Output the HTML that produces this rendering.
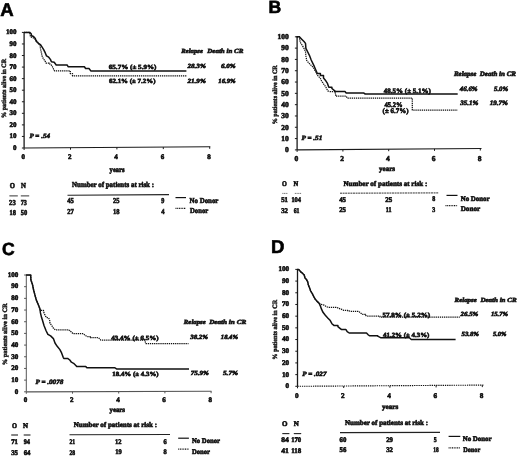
<!DOCTYPE html>
<html><head><meta charset="utf-8"><style>
html,body{margin:0;padding:0;background:#fff;}
body{width:520px;height:456px;overflow:hidden;}
svg{display:block;filter:blur(0.35px);text-rendering:geometricPrecision;}
</style></head><body>
<svg width="520" height="456" viewBox="0 0 520 456">
<rect width="520" height="456" fill="#fff"/>
<text x="0.2" y="15.7" font-size="18.6" font-weight="bold" font-family='"Liberation Sans", sans-serif' fill="#000" stroke="#000" stroke-width="0.6">A</text>
<line x1="24.10" y1="31.90" x2="24.10" y2="148.00" stroke="#1a1a1a" stroke-width="1.3"/>
<line x1="21.90" y1="148.00" x2="24.10" y2="148.00" stroke="#1a1a1a" stroke-width="1.0"/>
<text x="16.50" y="150.00" font-size="7.0" font-weight="bold" font-family='"Liberation Serif", serif' fill="#111" stroke="#111" stroke-width="0.6" text-anchor="end">0</text>
<line x1="21.90" y1="136.44" x2="24.10" y2="136.44" stroke="#1a1a1a" stroke-width="1.0"/>
<text x="16.50" y="138.44" font-size="7.0" font-weight="bold" font-family='"Liberation Serif", serif' fill="#111" stroke="#111" stroke-width="0.6" text-anchor="end">10</text>
<line x1="21.90" y1="124.88" x2="24.10" y2="124.88" stroke="#1a1a1a" stroke-width="1.0"/>
<text x="16.50" y="126.88" font-size="7.0" font-weight="bold" font-family='"Liberation Serif", serif' fill="#111" stroke="#111" stroke-width="0.6" text-anchor="end">20</text>
<line x1="21.90" y1="113.32" x2="24.10" y2="113.32" stroke="#1a1a1a" stroke-width="1.0"/>
<text x="16.50" y="115.32" font-size="7.0" font-weight="bold" font-family='"Liberation Serif", serif' fill="#111" stroke="#111" stroke-width="0.6" text-anchor="end">30</text>
<line x1="21.90" y1="101.76" x2="24.10" y2="101.76" stroke="#1a1a1a" stroke-width="1.0"/>
<text x="16.50" y="103.76" font-size="7.0" font-weight="bold" font-family='"Liberation Serif", serif' fill="#111" stroke="#111" stroke-width="0.6" text-anchor="end">40</text>
<line x1="21.90" y1="90.20" x2="24.10" y2="90.20" stroke="#1a1a1a" stroke-width="1.0"/>
<text x="16.50" y="92.20" font-size="7.0" font-weight="bold" font-family='"Liberation Serif", serif' fill="#111" stroke="#111" stroke-width="0.6" text-anchor="end">50</text>
<line x1="21.90" y1="78.64" x2="24.10" y2="78.64" stroke="#1a1a1a" stroke-width="1.0"/>
<text x="16.50" y="80.64" font-size="7.0" font-weight="bold" font-family='"Liberation Serif", serif' fill="#111" stroke="#111" stroke-width="0.6" text-anchor="end">60</text>
<line x1="21.90" y1="67.08" x2="24.10" y2="67.08" stroke="#1a1a1a" stroke-width="1.0"/>
<text x="16.50" y="69.08" font-size="7.0" font-weight="bold" font-family='"Liberation Serif", serif' fill="#111" stroke="#111" stroke-width="0.6" text-anchor="end">70</text>
<line x1="21.90" y1="55.52" x2="24.10" y2="55.52" stroke="#1a1a1a" stroke-width="1.0"/>
<text x="16.50" y="57.52" font-size="7.0" font-weight="bold" font-family='"Liberation Serif", serif' fill="#111" stroke="#111" stroke-width="0.6" text-anchor="end">80</text>
<line x1="21.90" y1="43.96" x2="24.10" y2="43.96" stroke="#1a1a1a" stroke-width="1.0"/>
<text x="16.50" y="45.96" font-size="7.0" font-weight="bold" font-family='"Liberation Serif", serif' fill="#111" stroke="#111" stroke-width="0.6" text-anchor="end">90</text>
<line x1="21.90" y1="32.40" x2="24.10" y2="32.40" stroke="#1a1a1a" stroke-width="1.0"/>
<text x="16.50" y="34.40" font-size="7.0" font-weight="bold" font-family='"Liberation Serif", serif' fill="#111" stroke="#111" stroke-width="0.6" text-anchor="end">100</text>
<line x1="24.10" y1="148.00" x2="210.30" y2="146.80" stroke="#1a1a1a" stroke-width="1.15"/>
<line x1="24.10" y1="148.00" x2="24.10" y2="150.00" stroke="#1a1a1a" stroke-width="1.0"/>
<text x="23.30" y="159.20" font-size="7.0" font-weight="bold" font-family='"Liberation Serif", serif' fill="#111" stroke="#111" stroke-width="0.6" text-anchor="middle">0</text>
<line x1="70.50" y1="147.70" x2="70.50" y2="149.70" stroke="#1a1a1a" stroke-width="1.0"/>
<text x="69.70" y="159.20" font-size="7.0" font-weight="bold" font-family='"Liberation Serif", serif' fill="#111" stroke="#111" stroke-width="0.6" text-anchor="middle">2</text>
<line x1="116.90" y1="147.40" x2="116.90" y2="149.40" stroke="#1a1a1a" stroke-width="1.0"/>
<text x="116.10" y="159.20" font-size="7.0" font-weight="bold" font-family='"Liberation Serif", serif' fill="#111" stroke="#111" stroke-width="0.6" text-anchor="middle">4</text>
<line x1="163.30" y1="147.10" x2="163.30" y2="149.10" stroke="#1a1a1a" stroke-width="1.0"/>
<text x="162.50" y="159.20" font-size="7.0" font-weight="bold" font-family='"Liberation Serif", serif' fill="#111" stroke="#111" stroke-width="0.6" text-anchor="middle">6</text>
<line x1="209.70" y1="146.80" x2="209.70" y2="148.80" stroke="#1a1a1a" stroke-width="1.0"/>
<text x="208.90" y="159.20" font-size="7.0" font-weight="bold" font-family='"Liberation Serif", serif' fill="#111" stroke="#111" stroke-width="0.6" text-anchor="middle">8</text>
<text x="109.60" y="171.90" font-size="7.4" font-weight="bold" font-family='"Liberation Serif", serif' fill="#111" stroke="#111" stroke-width="0.6" textLength="15.00" lengthAdjust="spacingAndGlyphs">years</text>
<text transform="translate(5.80,88.40) rotate(-90)" x="-29.50" y="0" font-size="6.6" font-weight="bold" font-family='"Liberation Serif", serif' fill="#111" stroke="#111" stroke-width="0.42" textLength="59" lengthAdjust="spacingAndGlyphs">% patients alive in CR</text>
<text x="29.50" y="137.70" font-size="6.6" font-weight="bold" font-style="italic" font-family='"Liberation Serif", serif' fill="#111" stroke="#111" stroke-width="0.6" textLength="20.50" lengthAdjust="spacingAndGlyphs">P = .54</text>
<path d="M24.00,32.40 H29.70 L30.50,36.80 L33.50,38.00 L35.50,39.50 L38.00,42.50 L40.10,45.70 L40.50,48.80 L41.20,51.80 L42.00,55.70 L43.20,58.40 L45.10,61.10 L46.00,63.00 H49.20 V63.80 L51.00,64.40 L52.70,67.30 L54.40,70.80 H70.30 V73.50 H72.50 V75.90 H186.40" fill="none" stroke="#111" stroke-width="1.25" stroke-linejoin="round" stroke-dasharray="1.3,0.8"/>
<path d="M24.00,32.40 H29.70 L31.20,33.80 L31.60,35.70 L33.50,36.50 L35.30,38.60 L36.10,41.10 L38.30,43.30 L40.50,44.60 L42.10,47.10 L43.80,49.90 L45.40,53.20 L46.50,55.90 L48.70,57.20 L50.40,59.40 L51.40,61.80 L54.20,62.20 L56.20,65.00 H67.10 L68.30,66.80 H84.40 L85.60,68.50 H89.00 L90.80,70.90 H186.40" fill="none" stroke="#111" stroke-width="1.5" stroke-linejoin="round"/>
<text x="108.75" y="69.00" font-size="6.3" font-weight="bold" font-family='"Liberation Serif", serif' fill="#111" stroke="#111" stroke-width="0.6" textLength="47.75" lengthAdjust="spacingAndGlyphs">65.7% (± 5.9%)</text>
<text x="109.00" y="82.70" font-size="6.3" font-weight="bold" font-family='"Liberation Serif", serif' fill="#111" stroke="#111" stroke-width="0.6" textLength="46.50" lengthAdjust="spacingAndGlyphs">62.1% (± 7.2%)</text>
<text x="181.30" y="52.50" font-size="6.3" font-weight="bold" font-style="italic" font-family='"Liberation Serif", serif' fill="#111" stroke="#111" stroke-width="0.6" textLength="21.60" lengthAdjust="spacingAndGlyphs">Relapse</text>
<text x="207.30" y="52.50" font-size="6.3" font-weight="bold" font-style="italic" font-family='"Liberation Serif", serif' fill="#111" stroke="#111" stroke-width="0.6" textLength="36.00" lengthAdjust="spacingAndGlyphs">Death in CR</text>
<text x="187.50" y="68.30" font-size="6.3" font-weight="bold" font-style="italic" font-family='"Liberation Serif", serif' fill="#111" stroke="#111" stroke-width="0.6" textLength="18.30" lengthAdjust="spacingAndGlyphs">28.3%</text>
<text x="221.00" y="68.30" font-size="6.3" font-weight="bold" font-style="italic" font-family='"Liberation Serif", serif' fill="#111" stroke="#111" stroke-width="0.6" textLength="14.60" lengthAdjust="spacingAndGlyphs">6.0%</text>
<text x="187.50" y="82.70" font-size="6.3" font-weight="bold" font-style="italic" font-family='"Liberation Serif", serif' fill="#111" stroke="#111" stroke-width="0.6" textLength="18.30" lengthAdjust="spacingAndGlyphs">21.9%</text>
<text x="218.30" y="82.70" font-size="6.3" font-weight="bold" font-style="italic" font-family='"Liberation Serif", serif' fill="#111" stroke="#111" stroke-width="0.6" textLength="17.30" lengthAdjust="spacingAndGlyphs">16.9%</text>
<text x="9.70" y="187.80" font-size="7.4" font-weight="bold" font-family='"Liberation Serif", serif' fill="#111" stroke="#111" stroke-width="0.6" textLength="5.20" lengthAdjust="spacingAndGlyphs">O</text>
<text x="21.00" y="187.80" font-size="7.4" font-weight="bold" font-family='"Liberation Serif", serif' fill="#111" stroke="#111" stroke-width="0.6" textLength="4.90" lengthAdjust="spacingAndGlyphs">N</text>
<text x="9.10" y="204.60" font-size="7.4" font-weight="bold" font-family='"Liberation Serif", serif' fill="#111" stroke="#111" stroke-width="0.6" textLength="6.60" lengthAdjust="spacingAndGlyphs">23</text>
<text x="20.80" y="204.60" font-size="7.4" font-weight="bold" font-family='"Liberation Serif", serif' fill="#111" stroke="#111" stroke-width="0.6" textLength="6.10" lengthAdjust="spacingAndGlyphs">73</text>
<text x="9.40" y="215.00" font-size="7.4" font-weight="bold" font-family='"Liberation Serif", serif' fill="#111" stroke="#111" stroke-width="0.6" textLength="6.50" lengthAdjust="spacingAndGlyphs">18</text>
<text x="20.80" y="215.00" font-size="7.4" font-weight="bold" font-family='"Liberation Serif", serif' fill="#111" stroke="#111" stroke-width="0.6" textLength="6.40" lengthAdjust="spacingAndGlyphs">50</text>
<text x="72.10" y="187.10" font-size="7.4" font-weight="bold" font-family='"Liberation Serif", serif' fill="#111" stroke="#111" stroke-width="0.6" textLength="81.90" lengthAdjust="spacingAndGlyphs">Number of patients at risk :</text>
<text x="67.20" y="203.00" font-size="7.4" font-weight="bold" font-family='"Liberation Serif", serif' fill="#111" stroke="#111" stroke-width="0.6" textLength="6.60" lengthAdjust="spacingAndGlyphs">45</text>
<text x="113.10" y="203.00" font-size="7.4" font-weight="bold" font-family='"Liberation Serif", serif' fill="#111" stroke="#111" stroke-width="0.6" textLength="6.50" lengthAdjust="spacingAndGlyphs">25</text>
<text x="161.20" y="203.00" font-size="7.4" font-weight="bold" font-family='"Liberation Serif", serif' fill="#111" stroke="#111" stroke-width="0.6" textLength="3.10" lengthAdjust="spacingAndGlyphs">9</text>
<text x="67.20" y="213.90" font-size="7.4" font-weight="bold" font-family='"Liberation Serif", serif' fill="#111" stroke="#111" stroke-width="0.6" textLength="6.60" lengthAdjust="spacingAndGlyphs">27</text>
<text x="113.10" y="213.90" font-size="7.4" font-weight="bold" font-family='"Liberation Serif", serif' fill="#111" stroke="#111" stroke-width="0.6" textLength="6.50" lengthAdjust="spacingAndGlyphs">18</text>
<text x="161.20" y="213.90" font-size="7.4" font-weight="bold" font-family='"Liberation Serif", serif' fill="#111" stroke="#111" stroke-width="0.6" textLength="3.30" lengthAdjust="spacingAndGlyphs">4</text>
<text x="189.60" y="203.20" font-size="7.4" font-weight="bold" font-family='"Liberation Serif", serif' fill="#111" stroke="#111" stroke-width="0.6" textLength="28.80" lengthAdjust="spacingAndGlyphs">No Donor</text>
<text x="190.00" y="213.30" font-size="7.4" font-weight="bold" font-family='"Liberation Serif", serif' fill="#111" stroke="#111" stroke-width="0.6" textLength="18.20" lengthAdjust="spacingAndGlyphs">Donor</text>
<line x1="9.40" y1="195.90" x2="17.80" y2="195.90" stroke="#333" stroke-width="1.0"/>
<line x1="20.80" y1="195.90" x2="29.20" y2="195.90" stroke="#333" stroke-width="1.0"/>
<line x1="67.50" y1="195.30" x2="169.00" y2="194.60" stroke="#222" stroke-width="1.1"/>
<line x1="175.50" y1="197.60" x2="186.00" y2="197.60" stroke="#111" stroke-width="1.2"/>
<line x1="175.50" y1="208.40" x2="186.00" y2="208.40" stroke="#111" stroke-width="1.1" stroke-dasharray="1,0.7"/>
<text x="268.4" y="12.7" font-size="17.6" font-weight="bold" font-family='"Liberation Sans", sans-serif' fill="#000" stroke="#000" stroke-width="0.6">B</text>
<line x1="297.10" y1="36.30" x2="297.10" y2="149.90" stroke="#1a1a1a" stroke-width="1.3"/>
<line x1="294.90" y1="149.90" x2="297.10" y2="149.90" stroke="#1a1a1a" stroke-width="1.0"/>
<text x="288.70" y="152.20" font-size="7.5" font-weight="bold" font-family='"Liberation Serif", serif' fill="#111" stroke="#111" stroke-width="0.6" text-anchor="end">0</text>
<line x1="294.90" y1="138.59" x2="297.10" y2="138.59" stroke="#1a1a1a" stroke-width="1.0"/>
<text x="288.70" y="140.89" font-size="7.5" font-weight="bold" font-family='"Liberation Serif", serif' fill="#111" stroke="#111" stroke-width="0.6" text-anchor="end">10</text>
<line x1="294.90" y1="127.28" x2="297.10" y2="127.28" stroke="#1a1a1a" stroke-width="1.0"/>
<text x="288.70" y="129.58" font-size="7.5" font-weight="bold" font-family='"Liberation Serif", serif' fill="#111" stroke="#111" stroke-width="0.6" text-anchor="end">20</text>
<line x1="294.90" y1="115.97" x2="297.10" y2="115.97" stroke="#1a1a1a" stroke-width="1.0"/>
<text x="288.70" y="118.27" font-size="7.5" font-weight="bold" font-family='"Liberation Serif", serif' fill="#111" stroke="#111" stroke-width="0.6" text-anchor="end">30</text>
<line x1="294.90" y1="104.66" x2="297.10" y2="104.66" stroke="#1a1a1a" stroke-width="1.0"/>
<text x="288.70" y="106.96" font-size="7.5" font-weight="bold" font-family='"Liberation Serif", serif' fill="#111" stroke="#111" stroke-width="0.6" text-anchor="end">40</text>
<line x1="294.90" y1="93.35" x2="297.10" y2="93.35" stroke="#1a1a1a" stroke-width="1.0"/>
<text x="288.70" y="95.65" font-size="7.5" font-weight="bold" font-family='"Liberation Serif", serif' fill="#111" stroke="#111" stroke-width="0.6" text-anchor="end">50</text>
<line x1="294.90" y1="82.04" x2="297.10" y2="82.04" stroke="#1a1a1a" stroke-width="1.0"/>
<text x="288.70" y="84.34" font-size="7.5" font-weight="bold" font-family='"Liberation Serif", serif' fill="#111" stroke="#111" stroke-width="0.6" text-anchor="end">60</text>
<line x1="294.90" y1="70.73" x2="297.10" y2="70.73" stroke="#1a1a1a" stroke-width="1.0"/>
<text x="288.70" y="73.03" font-size="7.5" font-weight="bold" font-family='"Liberation Serif", serif' fill="#111" stroke="#111" stroke-width="0.6" text-anchor="end">70</text>
<line x1="294.90" y1="59.42" x2="297.10" y2="59.42" stroke="#1a1a1a" stroke-width="1.0"/>
<text x="288.70" y="61.72" font-size="7.5" font-weight="bold" font-family='"Liberation Serif", serif' fill="#111" stroke="#111" stroke-width="0.6" text-anchor="end">80</text>
<line x1="294.90" y1="48.11" x2="297.10" y2="48.11" stroke="#1a1a1a" stroke-width="1.0"/>
<text x="288.70" y="50.41" font-size="7.5" font-weight="bold" font-family='"Liberation Serif", serif' fill="#111" stroke="#111" stroke-width="0.6" text-anchor="end">90</text>
<line x1="294.90" y1="36.80" x2="297.10" y2="36.80" stroke="#1a1a1a" stroke-width="1.0"/>
<text x="288.70" y="39.10" font-size="7.5" font-weight="bold" font-family='"Liberation Serif", serif' fill="#111" stroke="#111" stroke-width="0.6" text-anchor="end">100</text>
<line x1="297.10" y1="149.90" x2="481.50" y2="148.50" stroke="#1a1a1a" stroke-width="1.15"/>
<line x1="297.10" y1="149.90" x2="297.10" y2="151.90" stroke="#1a1a1a" stroke-width="1.0"/>
<text x="296.30" y="161.10" font-size="7.5" font-weight="bold" font-family='"Liberation Serif", serif' fill="#111" stroke="#111" stroke-width="0.6" text-anchor="middle">0</text>
<line x1="342.90" y1="149.55" x2="342.90" y2="151.55" stroke="#1a1a1a" stroke-width="1.0"/>
<text x="342.10" y="161.10" font-size="7.5" font-weight="bold" font-family='"Liberation Serif", serif' fill="#111" stroke="#111" stroke-width="0.6" text-anchor="middle">2</text>
<line x1="388.70" y1="149.20" x2="388.70" y2="151.20" stroke="#1a1a1a" stroke-width="1.0"/>
<text x="387.90" y="161.10" font-size="7.5" font-weight="bold" font-family='"Liberation Serif", serif' fill="#111" stroke="#111" stroke-width="0.6" text-anchor="middle">4</text>
<line x1="434.50" y1="148.86" x2="434.50" y2="150.86" stroke="#1a1a1a" stroke-width="1.0"/>
<text x="433.70" y="161.10" font-size="7.5" font-weight="bold" font-family='"Liberation Serif", serif' fill="#111" stroke="#111" stroke-width="0.6" text-anchor="middle">6</text>
<line x1="480.30" y1="148.51" x2="480.30" y2="150.51" stroke="#1a1a1a" stroke-width="1.0"/>
<text x="479.50" y="161.10" font-size="7.5" font-weight="bold" font-family='"Liberation Serif", serif' fill="#111" stroke="#111" stroke-width="0.6" text-anchor="middle">8</text>
<text x="379.00" y="170.60" font-size="7.2" font-weight="bold" font-family='"Liberation Serif", serif' fill="#111" stroke="#111" stroke-width="0.6" textLength="16.00" lengthAdjust="spacingAndGlyphs">years</text>
<text transform="translate(277.00,94.80) rotate(-90)" x="-29.50" y="0" font-size="6.6" font-weight="bold" font-family='"Liberation Serif", serif' fill="#111" stroke="#111" stroke-width="0.42" textLength="59" lengthAdjust="spacingAndGlyphs">% patients alive in CR</text>
<text x="301.50" y="140.20" font-size="6.6" font-weight="bold" font-style="italic" font-family='"Liberation Serif", serif' fill="#111" stroke="#111" stroke-width="0.6" textLength="20.80" lengthAdjust="spacingAndGlyphs">P = .51</text>
<path d="M296.70,36.80 H299.40 L299.60,38.80 L300.20,42.20 L301.70,44.50 L303.60,47.60 L305.50,51.50 L305.90,56.00 L306.70,60.40 L308.80,63.10 L311.20,65.40 L313.50,67.70 L315.40,71.50 L317.70,75.40 L320.40,78.50 L321.50,80.80 L323.50,83.80 L325.80,86.90 L327.70,90.80 L329.60,91.50 H335.20 V92.10 L335.80,96.20 H346.20 L347.30,98.10 H412.30 V110.00 H457.70" fill="none" stroke="#111" stroke-width="1.25" stroke-linejoin="round" stroke-dasharray="1.3,0.8"/>
<path d="M296.70,36.80 H299.40 L301.70,39.20 L304.00,41.50 L305.50,43.40 L305.90,48.40 L307.50,51.50 L309.40,55.30 L311.20,60.00 L312.70,63.10 L314.20,66.20 L315.80,70.00 L317.30,73.50 H320.40 V75.40 H323.50 V78.10 L325.80,80.80 L327.30,83.10 L328.80,87.30 H331.90 V88.50 L334.20,90.40 L335.80,91.50 H345.00 L346.20,92.90 H363.50 L365.20,94.00 H457.70" fill="none" stroke="#111" stroke-width="1.5" stroke-linejoin="round"/>
<text x="383.80" y="92.60" font-size="6.8" font-weight="bold" font-family='"Liberation Serif", serif' fill="#111" stroke="#111" stroke-width="0.6" textLength="47.00" lengthAdjust="spacingAndGlyphs">48.5% (± 5.1%)</text>
<text x="384.40" y="107.00" font-size="7.0" font-weight="bold" font-family='"Liberation Serif", serif' fill="#111" stroke="#111" stroke-width="0.6" textLength="18.20" lengthAdjust="spacingAndGlyphs">45.2%</text>
<text x="382.60" y="113.40" font-size="7.0" font-weight="bold" font-family='"Liberation Serif", serif' fill="#111" stroke="#111" stroke-width="0.6" textLength="26.00" lengthAdjust="spacingAndGlyphs">(± 6.7%)</text>
<text x="453.90" y="75.60" font-size="6.8" font-weight="bold" font-style="italic" font-family='"Liberation Serif", serif' fill="#111" stroke="#111" stroke-width="0.6" textLength="22.50" lengthAdjust="spacingAndGlyphs">Relapse</text>
<text x="479.80" y="75.60" font-size="6.8" font-weight="bold" font-style="italic" font-family='"Liberation Serif", serif' fill="#111" stroke="#111" stroke-width="0.6" textLength="36.20" lengthAdjust="spacingAndGlyphs">Death in CR</text>
<text x="459.80" y="91.00" font-size="6.8" font-weight="bold" font-style="italic" font-family='"Liberation Serif", serif' fill="#111" stroke="#111" stroke-width="0.6" textLength="17.80" lengthAdjust="spacingAndGlyphs">46.6%</text>
<text x="494.00" y="91.00" font-size="6.8" font-weight="bold" font-style="italic" font-family='"Liberation Serif", serif' fill="#111" stroke="#111" stroke-width="0.6" textLength="14.20" lengthAdjust="spacingAndGlyphs">5.0%</text>
<text x="460.30" y="104.90" font-size="6.8" font-weight="bold" font-style="italic" font-family='"Liberation Serif", serif' fill="#111" stroke="#111" stroke-width="0.6" textLength="18.10" lengthAdjust="spacingAndGlyphs">35.1%</text>
<text x="489.70" y="104.90" font-size="6.8" font-weight="bold" font-style="italic" font-family='"Liberation Serif", serif' fill="#111" stroke="#111" stroke-width="0.6" textLength="18.20" lengthAdjust="spacingAndGlyphs">19.7%</text>
<text x="282.00" y="186.10" font-size="7.2" font-weight="bold" font-family='"Liberation Serif", serif' fill="#111" stroke="#111" stroke-width="0.6" textLength="4.80" lengthAdjust="spacingAndGlyphs">O</text>
<text x="293.50" y="186.10" font-size="7.2" font-weight="bold" font-family='"Liberation Serif", serif' fill="#111" stroke="#111" stroke-width="0.6" textLength="4.70" lengthAdjust="spacingAndGlyphs">N</text>
<text x="281.20" y="202.20" font-size="7.2" font-weight="bold" font-family='"Liberation Serif", serif' fill="#111" stroke="#111" stroke-width="0.6" textLength="6.80" lengthAdjust="spacingAndGlyphs">51</text>
<text x="291.40" y="202.20" font-size="7.2" font-weight="bold" font-family='"Liberation Serif", serif' fill="#111" stroke="#111" stroke-width="0.6" textLength="9.60" lengthAdjust="spacingAndGlyphs">104</text>
<text x="281.20" y="212.60" font-size="7.2" font-weight="bold" font-family='"Liberation Serif", serif' fill="#111" stroke="#111" stroke-width="0.6" textLength="6.80" lengthAdjust="spacingAndGlyphs">32</text>
<text x="293.70" y="212.60" font-size="7.2" font-weight="bold" font-family='"Liberation Serif", serif' fill="#111" stroke="#111" stroke-width="0.6" textLength="5.80" lengthAdjust="spacingAndGlyphs">61</text>
<text x="343.50" y="185.50" font-size="7.2" font-weight="bold" font-family='"Liberation Serif", serif' fill="#111" stroke="#111" stroke-width="0.6" textLength="83.80" lengthAdjust="spacingAndGlyphs">Number of patients at risk :</text>
<text x="339.20" y="202.00" font-size="7.2" font-weight="bold" font-family='"Liberation Serif", serif' fill="#111" stroke="#111" stroke-width="0.6" textLength="6.80" lengthAdjust="spacingAndGlyphs">45</text>
<text x="385.20" y="202.00" font-size="7.2" font-weight="bold" font-family='"Liberation Serif", serif' fill="#111" stroke="#111" stroke-width="0.6" textLength="6.90" lengthAdjust="spacingAndGlyphs">25</text>
<text x="432.20" y="201.30" font-size="7.2" font-weight="bold" font-family='"Liberation Serif", serif' fill="#111" stroke="#111" stroke-width="0.6" textLength="3.00" lengthAdjust="spacingAndGlyphs">8</text>
<text x="339.20" y="212.20" font-size="7.2" font-weight="bold" font-family='"Liberation Serif", serif' fill="#111" stroke="#111" stroke-width="0.6" textLength="6.80" lengthAdjust="spacingAndGlyphs">25</text>
<text x="385.70" y="212.20" font-size="7.2" font-weight="bold" font-family='"Liberation Serif", serif' fill="#111" stroke="#111" stroke-width="0.6" textLength="5.80" lengthAdjust="spacingAndGlyphs">11</text>
<text x="432.20" y="212.00" font-size="7.2" font-weight="bold" font-family='"Liberation Serif", serif' fill="#111" stroke="#111" stroke-width="0.6" textLength="3.00" lengthAdjust="spacingAndGlyphs">3</text>
<text x="460.70" y="201.20" font-size="7.2" font-weight="bold" font-family='"Liberation Serif", serif' fill="#111" stroke="#111" stroke-width="0.6" textLength="28.90" lengthAdjust="spacingAndGlyphs">No Donor</text>
<text x="460.70" y="211.20" font-size="7.2" font-weight="bold" font-family='"Liberation Serif", serif' fill="#111" stroke="#111" stroke-width="0.6" textLength="19.50" lengthAdjust="spacingAndGlyphs">Donor</text>
<line x1="282.30" y1="193.40" x2="287.80" y2="193.40" stroke="#777" stroke-width="1.0" stroke-dasharray="1.2,0.5"/>
<line x1="294.80" y1="193.40" x2="301.30" y2="193.40" stroke="#777" stroke-width="1.0" stroke-dasharray="1.2,0.5"/>
<line x1="340.00" y1="193.20" x2="438.80" y2="192.90" stroke="#333" stroke-width="1.0" stroke-dasharray="2,0.6"/>
<line x1="446.50" y1="195.40" x2="457.50" y2="195.40" stroke="#111" stroke-width="1.2"/>
<line x1="445.50" y1="205.60" x2="457.50" y2="205.60" stroke="#111" stroke-width="1.2" stroke-dasharray="1,0.7"/>
<text x="1.9" y="255.4" font-size="17.6" font-weight="bold" font-family='"Liberation Sans", sans-serif' fill="#000" stroke="#000" stroke-width="0.6">C</text>
<line x1="26.30" y1="274.50" x2="26.30" y2="391.80" stroke="#555" stroke-width="1.0"/>
<line x1="24.10" y1="391.80" x2="26.30" y2="391.80" stroke="#555" stroke-width="1.0"/>
<text x="18.20" y="393.60" font-size="7.0" font-weight="bold" font-family='"Liberation Serif", serif' fill="#111" stroke="#111" stroke-width="0.6" text-anchor="end">0</text>
<line x1="24.10" y1="380.12" x2="26.30" y2="380.12" stroke="#555" stroke-width="1.0"/>
<text x="18.20" y="381.92" font-size="7.0" font-weight="bold" font-family='"Liberation Serif", serif' fill="#111" stroke="#111" stroke-width="0.6" text-anchor="end">10</text>
<line x1="24.10" y1="368.44" x2="26.30" y2="368.44" stroke="#555" stroke-width="1.0"/>
<text x="18.20" y="370.24" font-size="7.0" font-weight="bold" font-family='"Liberation Serif", serif' fill="#111" stroke="#111" stroke-width="0.6" text-anchor="end">20</text>
<line x1="24.10" y1="356.76" x2="26.30" y2="356.76" stroke="#555" stroke-width="1.0"/>
<text x="18.20" y="358.56" font-size="7.0" font-weight="bold" font-family='"Liberation Serif", serif' fill="#111" stroke="#111" stroke-width="0.6" text-anchor="end">30</text>
<line x1="24.10" y1="345.08" x2="26.30" y2="345.08" stroke="#555" stroke-width="1.0"/>
<text x="18.20" y="346.88" font-size="7.0" font-weight="bold" font-family='"Liberation Serif", serif' fill="#111" stroke="#111" stroke-width="0.6" text-anchor="end">40</text>
<line x1="24.10" y1="333.40" x2="26.30" y2="333.40" stroke="#555" stroke-width="1.0"/>
<text x="18.20" y="335.20" font-size="7.0" font-weight="bold" font-family='"Liberation Serif", serif' fill="#111" stroke="#111" stroke-width="0.6" text-anchor="end">50</text>
<line x1="24.10" y1="321.72" x2="26.30" y2="321.72" stroke="#555" stroke-width="1.0"/>
<text x="18.20" y="323.52" font-size="7.0" font-weight="bold" font-family='"Liberation Serif", serif' fill="#111" stroke="#111" stroke-width="0.6" text-anchor="end">60</text>
<line x1="24.10" y1="310.04" x2="26.30" y2="310.04" stroke="#555" stroke-width="1.0"/>
<text x="18.20" y="311.84" font-size="7.0" font-weight="bold" font-family='"Liberation Serif", serif' fill="#111" stroke="#111" stroke-width="0.6" text-anchor="end">70</text>
<line x1="24.10" y1="298.36" x2="26.30" y2="298.36" stroke="#555" stroke-width="1.0"/>
<text x="18.20" y="300.16" font-size="7.0" font-weight="bold" font-family='"Liberation Serif", serif' fill="#111" stroke="#111" stroke-width="0.6" text-anchor="end">80</text>
<line x1="24.10" y1="286.68" x2="26.30" y2="286.68" stroke="#555" stroke-width="1.0"/>
<text x="18.20" y="288.48" font-size="7.0" font-weight="bold" font-family='"Liberation Serif", serif' fill="#111" stroke="#111" stroke-width="0.6" text-anchor="end">90</text>
<line x1="24.10" y1="275.00" x2="26.30" y2="275.00" stroke="#555" stroke-width="1.0"/>
<text x="18.20" y="276.80" font-size="7.0" font-weight="bold" font-family='"Liberation Serif", serif' fill="#111" stroke="#111" stroke-width="0.6" text-anchor="end">100</text>
<line x1="26.30" y1="391.80" x2="211.50" y2="391.20" stroke="#555" stroke-width="1.15"/>
<line x1="26.30" y1="391.80" x2="26.30" y2="393.80" stroke="#555" stroke-width="1.0"/>
<text x="25.50" y="402.00" font-size="7.0" font-weight="bold" font-family='"Liberation Serif", serif' fill="#111" stroke="#111" stroke-width="0.6" text-anchor="middle">0</text>
<line x1="72.50" y1="391.65" x2="72.50" y2="393.65" stroke="#555" stroke-width="1.0"/>
<text x="71.70" y="402.00" font-size="7.0" font-weight="bold" font-family='"Liberation Serif", serif' fill="#111" stroke="#111" stroke-width="0.6" text-anchor="middle">2</text>
<line x1="118.70" y1="391.50" x2="118.70" y2="393.50" stroke="#555" stroke-width="1.0"/>
<text x="117.90" y="402.00" font-size="7.0" font-weight="bold" font-family='"Liberation Serif", serif' fill="#111" stroke="#111" stroke-width="0.6" text-anchor="middle">4</text>
<line x1="164.90" y1="391.35" x2="164.90" y2="393.35" stroke="#555" stroke-width="1.0"/>
<text x="164.10" y="402.00" font-size="7.0" font-weight="bold" font-family='"Liberation Serif", serif' fill="#111" stroke="#111" stroke-width="0.6" text-anchor="middle">6</text>
<line x1="211.10" y1="391.20" x2="211.10" y2="393.20" stroke="#555" stroke-width="1.0"/>
<text x="210.30" y="402.00" font-size="7.0" font-weight="bold" font-family='"Liberation Serif", serif' fill="#111" stroke="#111" stroke-width="0.6" text-anchor="middle">8</text>
<text x="109.50" y="412.40" font-size="7.1" font-weight="bold" font-family='"Liberation Serif", serif' fill="#111" stroke="#111" stroke-width="0.6" textLength="15.50" lengthAdjust="spacingAndGlyphs">years</text>
<text transform="translate(6.60,334.30) rotate(-90)" x="-31.00" y="0" font-size="6.6" font-weight="bold" font-family='"Liberation Serif", serif' fill="#111" stroke="#111" stroke-width="0.42" textLength="62" lengthAdjust="spacingAndGlyphs">% patients alive in CR</text>
<text x="35.50" y="384.40" font-size="6.6" font-weight="bold" font-style="italic" font-family='"Liberation Serif", serif' fill="#111" stroke="#111" stroke-width="0.6" textLength="27.80" lengthAdjust="spacingAndGlyphs">P = .0078</text>
<path d="M26.30,275.00 H30.70 L30.90,280.00 L32.50,284.60 L33.60,290.00 L34.80,294.60 L36.20,299.60 L38.10,304.20 L40.20,310.40 H43.50 V311.20 L44.20,313.50 L46.20,317.30 L48.50,318.10 L49.60,319.60 L50.00,323.30 L51.70,325.50 L53.40,328.20 L55.50,329.90 H68.70 L70.90,331.50 L73.10,333.70 H83.00 L85.20,335.40 L86.90,336.50 H90.40 V337.70 H98.50 L100.80,340.00 H144.60 L145.80,343.50 H188.50" fill="none" stroke="#111" stroke-width="1.25" stroke-linejoin="round" stroke-dasharray="1.3,0.8"/>
<path d="M26.30,275.00 H30.70 L30.90,280.00 L32.50,284.60 L33.60,290.00 L34.80,294.60 L36.20,299.60 L38.10,304.20 L40.00,308.80 L40.40,312.70 L41.50,317.30 L42.40,320.00 L44.00,325.50 L46.20,331.00 L47.90,334.30 L50.60,335.90 L53.40,338.60 L55.00,343.00 L57.20,346.30 L59.90,349.60 L61.60,352.90 L63.20,357.30 L63.80,358.40 H67.60 L69.80,360.00 L71.40,362.20 L73.60,363.30 L75.80,365.50 L76.90,366.60 H85.80 L86.90,367.70 H114.60 L116.90,369.10 H189.00" fill="none" stroke="#111" stroke-width="1.5" stroke-linejoin="round"/>
<text x="111.30" y="340.00" font-size="6.3" font-weight="bold" font-family='"Liberation Serif", serif' fill="#111" stroke="#111" stroke-width="0.6" textLength="47.30" lengthAdjust="spacingAndGlyphs">43.4% (± 6.5%)</text>
<text x="112.30" y="376.20" font-size="6.3" font-weight="bold" font-family='"Liberation Serif", serif' fill="#111" stroke="#111" stroke-width="0.6" textLength="46.30" lengthAdjust="spacingAndGlyphs">18.4% (± 4.3%)</text>
<text x="183.80" y="323.80" font-size="6.3" font-weight="bold" font-style="italic" font-family='"Liberation Serif", serif' fill="#111" stroke="#111" stroke-width="0.6" textLength="22.00" lengthAdjust="spacingAndGlyphs">Relapse</text>
<text x="209.20" y="323.80" font-size="6.3" font-weight="bold" font-style="italic" font-family='"Liberation Serif", serif' fill="#111" stroke="#111" stroke-width="0.6" textLength="37.00" lengthAdjust="spacingAndGlyphs">Death in CR</text>
<text x="190.30" y="339.00" font-size="6.3" font-weight="bold" font-style="italic" font-family='"Liberation Serif", serif' fill="#111" stroke="#111" stroke-width="0.6" textLength="17.70" lengthAdjust="spacingAndGlyphs">38.2%</text>
<text x="220.80" y="339.00" font-size="6.3" font-weight="bold" font-style="italic" font-family='"Liberation Serif", serif' fill="#111" stroke="#111" stroke-width="0.6" textLength="17.20" lengthAdjust="spacingAndGlyphs">18.4%</text>
<text x="190.80" y="375.00" font-size="6.3" font-weight="bold" font-style="italic" font-family='"Liberation Serif", serif' fill="#111" stroke="#111" stroke-width="0.6" textLength="18.00" lengthAdjust="spacingAndGlyphs">75.9%</text>
<text x="223.00" y="375.00" font-size="6.3" font-weight="bold" font-style="italic" font-family='"Liberation Serif", serif' fill="#111" stroke="#111" stroke-width="0.6" textLength="15.00" lengthAdjust="spacingAndGlyphs">5.7%</text>
<text x="12.00" y="427.60" font-size="7.1" font-weight="bold" font-family='"Liberation Serif", serif' fill="#111" stroke="#111" stroke-width="0.6" textLength="5.00" lengthAdjust="spacingAndGlyphs">O</text>
<text x="23.00" y="427.60" font-size="7.1" font-weight="bold" font-family='"Liberation Serif", serif' fill="#111" stroke="#111" stroke-width="0.6" textLength="5.00" lengthAdjust="spacingAndGlyphs">N</text>
<text x="11.20" y="443.80" font-size="7.1" font-weight="bold" font-family='"Liberation Serif", serif' fill="#111" stroke="#111" stroke-width="0.6" textLength="6.80" lengthAdjust="spacingAndGlyphs">71</text>
<text x="23.70" y="443.80" font-size="7.1" font-weight="bold" font-family='"Liberation Serif", serif' fill="#111" stroke="#111" stroke-width="0.6" textLength="6.30" lengthAdjust="spacingAndGlyphs">94</text>
<text x="11.20" y="455.00" font-size="7.1" font-weight="bold" font-family='"Liberation Serif", serif' fill="#111" stroke="#111" stroke-width="0.6" textLength="6.80" lengthAdjust="spacingAndGlyphs">35</text>
<text x="23.70" y="455.00" font-size="7.1" font-weight="bold" font-family='"Liberation Serif", serif' fill="#111" stroke="#111" stroke-width="0.6" textLength="6.80" lengthAdjust="spacingAndGlyphs">64</text>
<text x="73.70" y="427.40" font-size="7.1" font-weight="bold" font-family='"Liberation Serif", serif' fill="#111" stroke="#111" stroke-width="0.6" textLength="83.30" lengthAdjust="spacingAndGlyphs">Number of patients at risk :</text>
<text x="69.50" y="443.80" font-size="7.1" font-weight="bold" font-family='"Liberation Serif", serif' fill="#111" stroke="#111" stroke-width="0.6" textLength="5.70" lengthAdjust="spacingAndGlyphs">21</text>
<text x="115.10" y="443.80" font-size="7.1" font-weight="bold" font-family='"Liberation Serif", serif' fill="#111" stroke="#111" stroke-width="0.6" textLength="6.50" lengthAdjust="spacingAndGlyphs">12</text>
<text x="163.40" y="443.80" font-size="7.1" font-weight="bold" font-family='"Liberation Serif", serif' fill="#111" stroke="#111" stroke-width="0.6" textLength="3.20" lengthAdjust="spacingAndGlyphs">6</text>
<text x="69.50" y="454.50" font-size="7.1" font-weight="bold" font-family='"Liberation Serif", serif' fill="#111" stroke="#111" stroke-width="0.6" textLength="5.70" lengthAdjust="spacingAndGlyphs">28</text>
<text x="115.30" y="454.20" font-size="7.1" font-weight="bold" font-family='"Liberation Serif", serif' fill="#111" stroke="#111" stroke-width="0.6" textLength="6.50" lengthAdjust="spacingAndGlyphs">19</text>
<text x="163.40" y="454.20" font-size="7.1" font-weight="bold" font-family='"Liberation Serif", serif' fill="#111" stroke="#111" stroke-width="0.6" textLength="3.20" lengthAdjust="spacingAndGlyphs">8</text>
<text x="192.00" y="442.60" font-size="7.1" font-weight="bold" font-family='"Liberation Serif", serif' fill="#111" stroke="#111" stroke-width="0.6" textLength="28.00" lengthAdjust="spacingAndGlyphs">No Donor</text>
<text x="192.00" y="453.60" font-size="7.1" font-weight="bold" font-family='"Liberation Serif", serif' fill="#111" stroke="#111" stroke-width="0.6" textLength="18.00" lengthAdjust="spacingAndGlyphs">Donor</text>
<line x1="11.20" y1="435.00" x2="18.00" y2="435.00" stroke="#222" stroke-width="1.1"/>
<line x1="23.70" y1="435.00" x2="30.50" y2="435.00" stroke="#222" stroke-width="1.1"/>
<line x1="69.50" y1="434.80" x2="170.00" y2="434.50" stroke="#222" stroke-width="1.1"/>
<line x1="178.20" y1="438.20" x2="188.90" y2="438.20" stroke="#111" stroke-width="1.2"/>
<line x1="178.20" y1="449.20" x2="188.90" y2="449.20" stroke="#111" stroke-width="1.2" stroke-dasharray="1,0.7"/>
<text x="270.9" y="252.7" font-size="18.6" font-weight="bold" font-family='"Liberation Sans", sans-serif' fill="#000" stroke="#000" stroke-width="0.6">D</text>
<line x1="297.50" y1="268.90" x2="297.50" y2="386.30" stroke="#1a1a1a" stroke-width="1.3"/>
<line x1="295.30" y1="386.30" x2="297.50" y2="386.30" stroke="#1a1a1a" stroke-width="1.0"/>
<text x="289.20" y="388.20" font-size="7.2" font-weight="bold" font-family='"Liberation Serif", serif' fill="#111" stroke="#111" stroke-width="0.6" text-anchor="end">0</text>
<line x1="295.30" y1="374.61" x2="297.50" y2="374.61" stroke="#1a1a1a" stroke-width="1.0"/>
<text x="289.20" y="376.51" font-size="7.2" font-weight="bold" font-family='"Liberation Serif", serif' fill="#111" stroke="#111" stroke-width="0.6" text-anchor="end">10</text>
<line x1="295.30" y1="362.92" x2="297.50" y2="362.92" stroke="#1a1a1a" stroke-width="1.0"/>
<text x="289.20" y="364.82" font-size="7.2" font-weight="bold" font-family='"Liberation Serif", serif' fill="#111" stroke="#111" stroke-width="0.6" text-anchor="end">20</text>
<line x1="295.30" y1="351.23" x2="297.50" y2="351.23" stroke="#1a1a1a" stroke-width="1.0"/>
<text x="289.20" y="353.13" font-size="7.2" font-weight="bold" font-family='"Liberation Serif", serif' fill="#111" stroke="#111" stroke-width="0.6" text-anchor="end">30</text>
<line x1="295.30" y1="339.54" x2="297.50" y2="339.54" stroke="#1a1a1a" stroke-width="1.0"/>
<text x="289.20" y="341.44" font-size="7.2" font-weight="bold" font-family='"Liberation Serif", serif' fill="#111" stroke="#111" stroke-width="0.6" text-anchor="end">40</text>
<line x1="295.30" y1="327.85" x2="297.50" y2="327.85" stroke="#1a1a1a" stroke-width="1.0"/>
<text x="289.20" y="329.75" font-size="7.2" font-weight="bold" font-family='"Liberation Serif", serif' fill="#111" stroke="#111" stroke-width="0.6" text-anchor="end">50</text>
<line x1="295.30" y1="316.16" x2="297.50" y2="316.16" stroke="#1a1a1a" stroke-width="1.0"/>
<text x="289.20" y="318.06" font-size="7.2" font-weight="bold" font-family='"Liberation Serif", serif' fill="#111" stroke="#111" stroke-width="0.6" text-anchor="end">60</text>
<line x1="295.30" y1="304.47" x2="297.50" y2="304.47" stroke="#1a1a1a" stroke-width="1.0"/>
<text x="289.20" y="306.37" font-size="7.2" font-weight="bold" font-family='"Liberation Serif", serif' fill="#111" stroke="#111" stroke-width="0.6" text-anchor="end">70</text>
<line x1="295.30" y1="292.78" x2="297.50" y2="292.78" stroke="#1a1a1a" stroke-width="1.0"/>
<text x="289.20" y="294.68" font-size="7.2" font-weight="bold" font-family='"Liberation Serif", serif' fill="#111" stroke="#111" stroke-width="0.6" text-anchor="end">80</text>
<line x1="295.30" y1="281.09" x2="297.50" y2="281.09" stroke="#1a1a1a" stroke-width="1.0"/>
<text x="289.20" y="282.99" font-size="7.2" font-weight="bold" font-family='"Liberation Serif", serif' fill="#111" stroke="#111" stroke-width="0.6" text-anchor="end">90</text>
<line x1="295.30" y1="269.40" x2="297.50" y2="269.40" stroke="#1a1a1a" stroke-width="1.0"/>
<text x="289.20" y="271.30" font-size="7.2" font-weight="bold" font-family='"Liberation Serif", serif' fill="#111" stroke="#111" stroke-width="0.6" text-anchor="end">100</text>
<line x1="297.50" y1="386.30" x2="483.40" y2="385.10" stroke="#111" stroke-width="1.15" stroke-dasharray="1.3,0.9"/>
<line x1="297.50" y1="386.30" x2="297.50" y2="388.30" stroke="#1a1a1a" stroke-width="1.0"/>
<text x="296.70" y="397.50" font-size="7.2" font-weight="bold" font-family='"Liberation Serif", serif' fill="#111" stroke="#111" stroke-width="0.6" text-anchor="middle">0</text>
<line x1="343.70" y1="386.00" x2="343.70" y2="388.00" stroke="#1a1a1a" stroke-width="1.0"/>
<text x="342.90" y="397.50" font-size="7.2" font-weight="bold" font-family='"Liberation Serif", serif' fill="#111" stroke="#111" stroke-width="0.6" text-anchor="middle">2</text>
<line x1="389.90" y1="385.70" x2="389.90" y2="387.70" stroke="#1a1a1a" stroke-width="1.0"/>
<text x="389.10" y="397.50" font-size="7.2" font-weight="bold" font-family='"Liberation Serif", serif' fill="#111" stroke="#111" stroke-width="0.6" text-anchor="middle">4</text>
<line x1="436.10" y1="385.41" x2="436.10" y2="387.41" stroke="#1a1a1a" stroke-width="1.0"/>
<text x="435.30" y="397.50" font-size="7.2" font-weight="bold" font-family='"Liberation Serif", serif' fill="#111" stroke="#111" stroke-width="0.6" text-anchor="middle">6</text>
<line x1="482.30" y1="385.11" x2="482.30" y2="387.11" stroke="#1a1a1a" stroke-width="1.0"/>
<text x="481.50" y="397.50" font-size="7.2" font-weight="bold" font-family='"Liberation Serif", serif' fill="#111" stroke="#111" stroke-width="0.6" text-anchor="middle">8</text>
<text x="382.00" y="409.20" font-size="7.1" font-weight="bold" font-family='"Liberation Serif", serif' fill="#111" stroke="#111" stroke-width="0.6" textLength="16.30" lengthAdjust="spacingAndGlyphs">years</text>
<text transform="translate(277.00,329.80) rotate(-90)" x="-30.00" y="0" font-size="6.6" font-weight="bold" font-family='"Liberation Serif", serif' fill="#111" stroke="#111" stroke-width="0.42" textLength="60" lengthAdjust="spacingAndGlyphs">% patients alive in CR</text>
<text x="302.30" y="375.90" font-size="6.6" font-weight="bold" font-style="italic" font-family='"Liberation Serif", serif' fill="#111" stroke="#111" stroke-width="0.6" textLength="24.20" lengthAdjust="spacingAndGlyphs">P = .027</text>
<path d="M297.20,269.50 H298.80 L300.80,271.90 L302.70,273.40 L304.20,275.00 L305.00,278.00 L306.50,279.60 L307.70,281.90 L308.40,285.00 L309.60,288.00 L310.70,291.10 L312.30,293.60 L313.80,296.60 L315.30,299.30 L316.90,301.10 L319.20,303.40 L320.40,304.20 L322.30,304.60 L324.60,305.30 L326.10,306.50 L328.40,307.40 H336.90 L338.80,308.40 L341.80,309.40 L343.80,310.40 H347.70 V310.80 L350.70,311.30 H358.60 L360.50,312.80 L362.00,314.30 H365.50 V315.30 L366.50,316.10 H380.00 V317.00 H459.40 V317.40" fill="none" stroke="#111" stroke-width="1.25" stroke-linejoin="round" stroke-dasharray="1.3,0.8"/>
<path d="M297.20,269.50 H298.80 L300.80,271.90 L302.70,273.40 L304.20,275.00 L305.00,278.00 L306.50,279.60 L307.70,281.90 L308.40,285.00 L309.60,288.00 L310.70,291.10 L312.30,293.60 L313.80,296.60 L315.30,299.30 L316.90,301.10 L319.20,303.40 L320.40,306.10 L321.50,309.20 L323.00,312.30 L325.30,315.30 L328.00,318.20 L330.00,320.20 L331.90,323.70 L333.90,325.40 H337.90 V326.60 L340.30,328.60 L341.30,329.40 H345.80 L347.20,331.60 L349.20,333.00 H366.50 L368.40,335.00 L369.40,335.70 H377.70 V336.20 L380.60,337.70 H409.40 L411.30,339.50 H455.60" fill="none" stroke="#111" stroke-width="1.5" stroke-linejoin="round"/>
<text x="382.40" y="316.80" font-size="6.3" font-weight="bold" font-family='"Liberation Serif", serif' fill="#111" stroke="#111" stroke-width="0.6" textLength="47.80" lengthAdjust="spacingAndGlyphs">57.8% (± 5.2%)</text>
<text x="383.00" y="336.80" font-size="6.3" font-weight="bold" font-family='"Liberation Serif", serif' fill="#111" stroke="#111" stroke-width="0.6" textLength="46.40" lengthAdjust="spacingAndGlyphs">41.2% (± 4.3%)</text>
<text x="454.60" y="302.20" font-size="6.3" font-weight="bold" font-style="italic" font-family='"Liberation Serif", serif' fill="#111" stroke="#111" stroke-width="0.6" textLength="22.20" lengthAdjust="spacingAndGlyphs">Relapse</text>
<text x="480.40" y="302.20" font-size="6.3" font-weight="bold" font-style="italic" font-family='"Liberation Serif", serif' fill="#111" stroke="#111" stroke-width="0.6" textLength="36.20" lengthAdjust="spacingAndGlyphs">Death in CR</text>
<text x="460.60" y="315.60" font-size="6.3" font-weight="bold" font-style="italic" font-family='"Liberation Serif", serif' fill="#111" stroke="#111" stroke-width="0.6" textLength="17.70" lengthAdjust="spacingAndGlyphs">26.5%</text>
<text x="491.00" y="315.60" font-size="6.3" font-weight="bold" font-style="italic" font-family='"Liberation Serif", serif' fill="#111" stroke="#111" stroke-width="0.6" textLength="17.00" lengthAdjust="spacingAndGlyphs">15.7%</text>
<text x="461.50" y="335.60" font-size="6.3" font-weight="bold" font-style="italic" font-family='"Liberation Serif", serif' fill="#111" stroke="#111" stroke-width="0.6" textLength="17.50" lengthAdjust="spacingAndGlyphs">53.8%</text>
<text x="493.00" y="335.60" font-size="6.3" font-weight="bold" font-style="italic" font-family='"Liberation Serif", serif' fill="#111" stroke="#111" stroke-width="0.6" textLength="13.50" lengthAdjust="spacingAndGlyphs">5.0%</text>
<text x="282.00" y="426.10" font-size="7.1" font-weight="bold" font-family='"Liberation Serif", serif' fill="#111" stroke="#111" stroke-width="0.6" textLength="5.50" lengthAdjust="spacingAndGlyphs">O</text>
<text x="293.70" y="426.10" font-size="7.1" font-weight="bold" font-family='"Liberation Serif", serif' fill="#111" stroke="#111" stroke-width="0.6" textLength="5.10" lengthAdjust="spacingAndGlyphs">N</text>
<text x="281.20" y="442.00" font-size="7.1" font-weight="bold" font-family='"Liberation Serif", serif' fill="#111" stroke="#111" stroke-width="0.6" textLength="7.60" lengthAdjust="spacingAndGlyphs">84</text>
<text x="291.20" y="442.00" font-size="7.1" font-weight="bold" font-family='"Liberation Serif", serif' fill="#111" stroke="#111" stroke-width="0.6" textLength="10.00" lengthAdjust="spacingAndGlyphs">170</text>
<text x="281.20" y="452.60" font-size="7.1" font-weight="bold" font-family='"Liberation Serif", serif' fill="#111" stroke="#111" stroke-width="0.6" textLength="7.60" lengthAdjust="spacingAndGlyphs">41</text>
<text x="291.20" y="452.60" font-size="7.1" font-weight="bold" font-family='"Liberation Serif", serif' fill="#111" stroke="#111" stroke-width="0.6" textLength="10.00" lengthAdjust="spacingAndGlyphs">118</text>
<text x="345.00" y="424.60" font-size="7.1" font-weight="bold" font-family='"Liberation Serif", serif' fill="#111" stroke="#111" stroke-width="0.6" textLength="83.00" lengthAdjust="spacingAndGlyphs">Number of patients at risk :</text>
<text x="339.50" y="441.50" font-size="7.1" font-weight="bold" font-family='"Liberation Serif", serif' fill="#111" stroke="#111" stroke-width="0.6" textLength="6.80" lengthAdjust="spacingAndGlyphs">60</text>
<text x="386.20" y="441.50" font-size="7.1" font-weight="bold" font-family='"Liberation Serif", serif' fill="#111" stroke="#111" stroke-width="0.6" textLength="6.80" lengthAdjust="spacingAndGlyphs">29</text>
<text x="433.70" y="441.50" font-size="7.1" font-weight="bold" font-family='"Liberation Serif", serif' fill="#111" stroke="#111" stroke-width="0.6" textLength="2.90" lengthAdjust="spacingAndGlyphs">5</text>
<text x="339.50" y="452.30" font-size="7.1" font-weight="bold" font-family='"Liberation Serif", serif' fill="#111" stroke="#111" stroke-width="0.6" textLength="6.80" lengthAdjust="spacingAndGlyphs">56</text>
<text x="386.20" y="452.30" font-size="7.1" font-weight="bold" font-family='"Liberation Serif", serif' fill="#111" stroke="#111" stroke-width="0.6" textLength="6.80" lengthAdjust="spacingAndGlyphs">32</text>
<text x="433.20" y="452.10" font-size="7.1" font-weight="bold" font-family='"Liberation Serif", serif' fill="#111" stroke="#111" stroke-width="0.6" textLength="5.40" lengthAdjust="spacingAndGlyphs">18</text>
<text x="462.70" y="441.40" font-size="7.1" font-weight="bold" font-family='"Liberation Serif", serif' fill="#111" stroke="#111" stroke-width="0.6" textLength="28.90" lengthAdjust="spacingAndGlyphs">No Donor</text>
<text x="463.20" y="452.10" font-size="7.1" font-weight="bold" font-family='"Liberation Serif", serif' fill="#111" stroke="#111" stroke-width="0.6" textLength="17.00" lengthAdjust="spacingAndGlyphs">Donor</text>
<line x1="282.30" y1="433.60" x2="289.40" y2="433.60" stroke="#222" stroke-width="1.1"/>
<line x1="293.80" y1="433.60" x2="301.20" y2="433.60" stroke="#222" stroke-width="1.1"/>
<line x1="340.00" y1="432.60" x2="440.00" y2="432.40" stroke="#222" stroke-width="1.1"/>
<line x1="448.60" y1="436.40" x2="460.30" y2="436.40" stroke="#111" stroke-width="1.2"/>
<line x1="448.60" y1="447.90" x2="460.30" y2="447.90" stroke="#111" stroke-width="1.2" stroke-dasharray="1,0.7"/>
</svg>
</body></html>
